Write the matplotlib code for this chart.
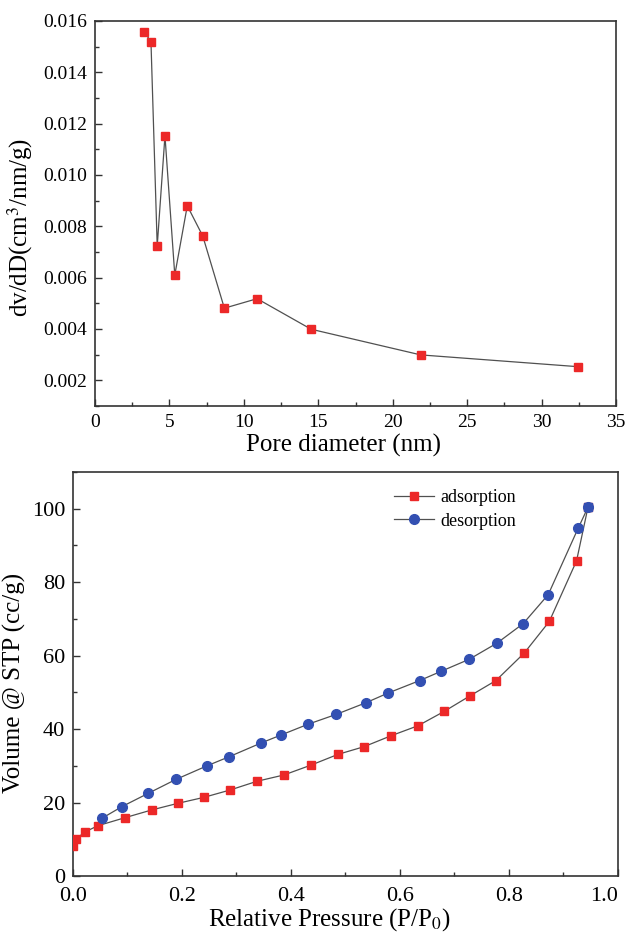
import matplotlib
matplotlib.use('Agg')
import matplotlib.pyplot as plt
from matplotlib.ticker import MultipleLocator

plt.rcParams['font.family'] = ['Liberation Serif', 'DejaVu Serif']
plt.rcParams['mathtext.fontset'] = 'stix'

# Distribucion de tamano de poro
poro_diametro = [3.31, 3.76, 4.18, 4.70, 5.36, 6.20, 7.24, 8.69, 10.89, 14.52, 21.88, 32.47]
poro_dvdD = [0.01558, 0.01519, 0.00723, 0.01153, 0.0061, 0.0088, 0.00762,
             0.00481, 0.00518, 0.00399, 0.00299, 0.00253]

# Isoterma de adsorcion / desorcion
ads_p = [0.0, 0.005, 0.022, 0.046, 0.096, 0.145, 0.193, 0.240, 0.288, 0.338,
         0.387, 0.437, 0.486, 0.534, 0.584, 0.633, 0.681, 0.728, 0.776,
         0.828, 0.874, 0.924, 0.945]
ads_v = [8.3, 10.0, 12.0, 13.7, 15.9, 18.0, 19.8, 21.4, 23.4, 25.8,
         27.5, 30.2, 33.1, 35.2, 38.2, 40.9, 44.8, 49.0, 53.2,
         60.7, 69.3, 85.8, 100.4]
des_p = [0.945, 0.927, 0.872, 0.826, 0.778, 0.727, 0.675, 0.636, 0.578, 0.538,
         0.483, 0.431, 0.382, 0.345, 0.287, 0.246, 0.189, 0.138, 0.090, 0.053]
des_v = [100.4, 94.7, 76.6, 68.7, 63.4, 59.0, 55.7, 53.2, 49.8, 47.2,
         44.0, 41.3, 38.4, 36.2, 32.5, 30.0, 26.3, 22.5, 18.9, 15.7]

rojo = '#ec2828'
azul = '#3350b2'
gris = '#505050'

fig = plt.figure(figsize=(6.27, 9.32), dpi=100)
ax1 = fig.add_axes([0.1515, 0.5644, 0.831, 0.4131])
ax2 = fig.add_axes([0.1164, 0.0601, 0.8692, 0.4335])

# Grafica superior
ax1.plot(poro_diametro, poro_dvdD, '-', color=gris, lw=0.9, marker='s', ms=5.8,
         mfc=rojo, mec=rojo, zorder=3)
ax1.set_xlim(0, 35)
ax1.set_ylim(0.001, 0.016)
ax1.xaxis.set_major_locator(MultipleLocator(5))
ax1.xaxis.set_minor_locator(MultipleLocator(2.5))
ax1.set_yticks([0.002, 0.004, 0.006, 0.008, 0.010, 0.012, 0.014, 0.016])
ax1.set_yticklabels(['0.002', '0.004', '0.006', '0.008', '0.010', '0.012', '0.014', '0.016'])
ax1.yaxis.set_minor_locator(MultipleLocator(0.001))
ax1.set_xlabel('Pore diameter (nm)', fontsize=18, labelpad=2)
ax1.set_ylabel('dv/dD(cm$^3$/nm/g)', fontsize=18, labelpad=6)
ax1.xaxis.label.set_x(0.476)
ax1.yaxis.label.set_y(0.465)
ax1.tick_params(labelsize=14)
ax1.tick_params(axis='x', pad=6)
ax1.tick_params(axis='y', pad=5.5)

# Grafica inferior
ax2.plot(ads_p, ads_v, '-', color=gris, lw=0.9, marker='s', ms=5.5,
         mfc=rojo, mec=rojo, label='adsorption', zorder=3)
ax2.plot(des_p, des_v, '-', color=gris, lw=0.9, marker='o', ms=7,
         mfc=azul, mec=azul, label='desorption', zorder=3)
ax2.plot(ads_p[-1:], ads_v[-1:], 's', ms=5.5, mfc=azul, mec=azul, zorder=4)
ax2.set_xlim(0, 1.0)
ax2.set_ylim(0, 110)
ax2.set_xticks([0.0, 0.2, 0.4, 0.6, 0.8, 1.0])
ax2.xaxis.set_minor_locator(MultipleLocator(0.1))
ax2.yaxis.set_major_locator(MultipleLocator(20))
ax2.yaxis.set_minor_locator(MultipleLocator(10))
ax2.set_xlabel('Relative Pressure (P/P$_0$)', fontsize=18, labelpad=0)
ax2.set_ylabel('Volume @ STP (cc/g)', fontsize=18, labelpad=4)
ax2.xaxis.label.set_x(0.47)
ax2.yaxis.label.set_y(0.478)
ax2.tick_params(labelsize=16)
ax2.tick_params(axis='x', pad=8)
ax2.tick_params(axis='y', pad=5.5)
ax2.legend(loc='upper left', bbox_to_anchor=(0.576, 0.975), frameon=False,
           fontsize=13, handlelength=2.2, handletextpad=0.35, labelspacing=0.35,
           borderaxespad=0)

for ax in (ax1, ax2):
    for s in ax.spines.values():
        s.set_linewidth(1.2)
        s.set_color('#333333')
    ax.tick_params(which='both', direction='in', color='#333333')
    ax.tick_params(which='major', length=5, width=1)
    ax.tick_params(which='minor', length=3, width=1)

# la etiqueta 1.0 alineada a la derecha para que quepa
ax2.xaxis.get_major_ticks()[-1].label1.set_horizontalalignment('right')

fig.savefig('out.png', dpi=100)
